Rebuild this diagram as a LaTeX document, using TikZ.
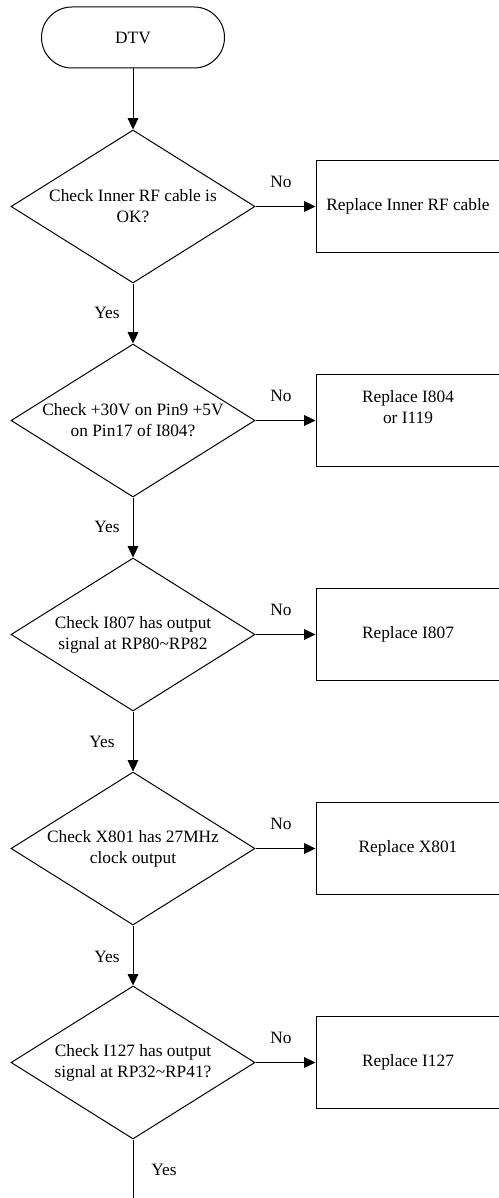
\documentclass[tikz,border=0pt]{standalone}
\usepackage{fontspec}
\setmainfont{Liberation Serif}
\usetikzlibrary{shapes.geometric,arrows.meta}

\begin{document}
\begin{tikzpicture}[x=0.75pt,y=-0.75pt,
    font=\fontsize{13}{15.75}\selectfont,
    every path/.style={line width=0.75pt},
    term/.style={draw, rectangle, rounded corners=22.8pt, minimum width=137.25pt, minimum height=45.75pt},
    check/.style={draw, diamond, aspect=1.6, inner sep=0pt, minimum width=183pt, minimum height=114.75pt, align=center},
    fixbox/.style={draw, rectangle, minimum width=138pt, minimum height=69pt, align=center},
    flow/.style={-{Triangle[length=8.5pt,width=8pt]}}]
    \useasboundingbox (0,0) rectangle (499,1198);
    % start
    \node[term] (dtv) at (133,37.5) {DTV};
    % checks
    \node[check] (chk1) at (133,206.5) {Check Inner RF cable is\\OK?};
    \node[check] (chk2) at (133,420.5) {Check +30V on Pin9 +5V\\on Pin17 of I804?};
    \node[check] (chk3) at (133,634.5) {Check I807 has output\\signal at RP80\textasciitilde RP82};
    \node[check] (chk4) at (133,848.5) {Check X801 has 27MHz\\clock output};
    \node[check] (chk5) at (133,1062.5) {Check I127 has output\\signal at RP32\textasciitilde RP41?};
    % repairs
    \node[fixbox] (rep1) at (408,206.5) {Replace Inner RF cable};
    \node[fixbox] (rep2) at (408,420.5) {Replace I804\\or I119\\\strut};
    \node[fixbox] (rep3) at (408,634.5) {Replace I807};
    \node[fixbox] (rep4) at (408,848.5) {Replace X801};
    \node[fixbox] (rep5) at (408,1062.5) {Replace I127};
    \coordinate (out) at (133,1200);
    % Yes path
    \draw[flow] (dtv) -- (chk1);
    \draw[flow] (chk1) -- (chk2);
    \draw[flow] (chk2) -- (chk3);
    \draw[flow] (chk3) -- (chk4);
    \draw[flow] (chk4) -- (chk5);
    \draw (chk5) -- (out);
    \node (yes1) at (107,313) {Yes};
    \node (yes2) at (107,527) {Yes};
    \node (yes3) at (102,742) {Yes};
    \node (yes4) at (107,957) {Yes};
    \node (yes5) at (164,1170) {Yes};
    % No path
    \draw[flow] (chk1) -- (rep1);
    \draw[flow] (chk2) -- (rep2);
    \draw[flow] (chk3) -- (rep3);
    \draw[flow] (chk4) -- (rep4);
    \draw[flow] (chk5) -- (rep5);
    \node (no1) at (281,182) {No};
    \node (no2) at (281,396) {No};
    \node (no3) at (281,610) {No};
    \node (no4) at (281,824) {No};
    \node (no5) at (281,1038) {No};
\end{tikzpicture}
\end{document}
